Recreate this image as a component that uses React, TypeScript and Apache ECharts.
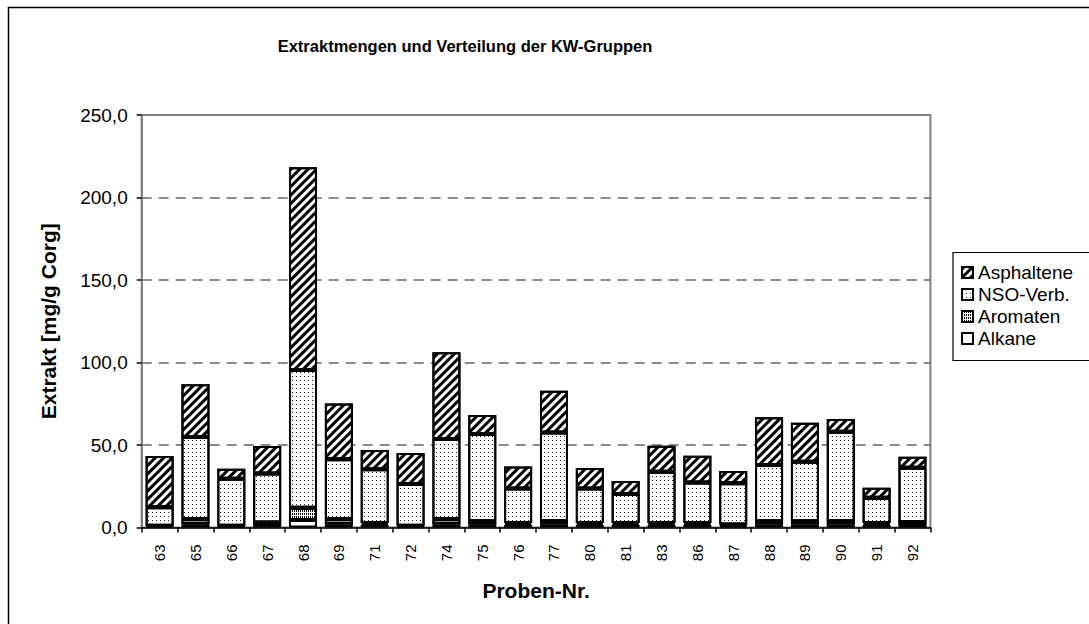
import React, { useEffect, useRef } from 'react';
import * as echarts from 'echarts';

const categories = ['63', '65', '66', '67', '68', '69', '71', '72', '74', '75', '76', '77', '80', '81', '83', '86', '87', '88', '89', '90', '91', '92'];
const alkane = [0.5, 2.0, 0.5, 1.5, 4.5, 2.0, 1.5, 0.5, 2.0, 1.8, 1.5, 1.8, 1.5, 1.5, 1.5, 1.5, 1.0, 2.0, 2.0, 2.0, 1.5, 1.5];
const aromaten = [0.5, 3.0, 0.5, 1.5, 7.5, 3.0, 1.2, 0.5, 3.0, 2.0, 1.2, 2.2, 1.2, 1.2, 1.2, 1.2, 0.8, 1.8, 1.8, 1.8, 1.2, 1.8];
const nsoVerb = [11.2, 49.8, 28.6, 29.8, 83.5, 36.3, 32.6, 25.4, 48.7, 52.8, 21.0, 53.6, 21.0, 17.6, 31.1, 24.5, 25.0, 34.1, 36.1, 54.3, 15.4, 32.9];
const asphaltene = [31.2, 32.0, 6.0, 16.6, 122.8, 33.9, 11.7, 18.8, 52.5, 11.6, 13.2, 25.3, 12.4, 7.9, 15.8, 16.3, 7.4, 28.9, 23.6, 7.7, 6.0, 6.7];
const seriesNames = ['Alkane', 'Aromaten', 'NSO-Verb.', 'Asphaltene'];
const legendOrder = ['Asphaltene', 'NSO-Verb.', 'Aromaten', 'Alkane'];
const yMin = 0;
const yMax = 250;
const yStep = 50;

const FONT = 'Liberation Sans, Arial, sans-serif';

export default function App() {
  const ref = useRef<HTMLDivElement>(null);
  useEffect(() => {
    if (!ref.current) return;
    const chart = echarts.init(ref.current, null, { renderer: 'svg' });
    const barBase = {
      type: 'bar',
      stack: 'total',
      barWidth: 28,
    };
    const decals: any = {
      Alkane: undefined,
      Aromaten: { symbol: 'rect', symbolSize: 1, color: '#000', dashArrayX: [1, 1], dashArrayY: [2, 1], rotation: 0 },
      'NSO-Verb.': { symbol: 'rect', symbolSize: 1, color: '#222', dashArrayX: [1, 3], dashArrayY: [1, 3], rotation: 0 },
      Asphaltene: { symbol: 'rect', symbolSize: 1, color: '#000', dashArrayX: [1, 0], dashArrayY: [2.5, 2.5], rotation: -Math.PI / 4 },
    };
    const dataMap: any = {
      Alkane: alkane,
      Aromaten: aromaten,
      'NSO-Verb.': nsoVerb,
      Asphaltene: asphaltene,
    };
    chart.setOption({
      animation: false,
      backgroundColor: '#fff',
      textStyle: { fontFamily: FONT },
      grid: {
        left: 141.7,
        right: 1089 - 930.4,
        top: 115,
        bottom: 624 - 527.5,
        show: true,
        borderColor: '#808080',
        borderWidth: 2,
        backgroundColor: 'transparent',
      },
      legend: {
        orient: 'vertical',
        left: 961,
        top: 263,
        itemWidth: 11,
        itemHeight: 11,
        itemGap: 3,
        padding: 0,
        icon: 'rect',
        data: legendOrder,
        textStyle: { fontSize: 19, fontFamily: FONT, color: '#000' },
      },
      xAxis: {
        type: 'category',
        data: categories,
        name: 'Proben-Nr.',
        nameLocation: 'middle',
        nameGap: 52,
        nameTextStyle: { fontSize: 21, fontWeight: 'bold', color: '#000', fontFamily: FONT },
        axisLine: { lineStyle: { color: '#000', width: 1.5 } },
        axisTick: { show: true, length: 5, lineStyle: { color: '#000', width: 1.5 } },
        axisLabel: { rotate: 90, fontSize: 15, color: '#000', margin: 17, fontFamily: FONT },
      },
      yAxis: {
        type: 'value',
        min: yMin,
        max: yMax,
        interval: yStep,
        name: 'Extrakt [mg/g Corg]',
        nameLocation: 'middle',
        nameGap: 83,
        nameTextStyle: { fontSize: 21, fontWeight: 'bold', color: '#000', fontFamily: FONT },
        axisLine: { show: true, lineStyle: { color: '#808080', width: 2 } },
        axisTick: { show: true, length: 5, lineStyle: { color: '#000', width: 1.5 } },
        axisLabel: {
          fontSize: 19,
          color: '#000',
          margin: 14,
          fontFamily: FONT,
          formatter: (v: number) => v.toFixed(1).replace('.', ','),
        },
        splitLine: {
          show: true,
          showMinLine: false,
          showMaxLine: false,
          lineStyle: { color: '#666', type: [10, 7], width: 1.5 },
        },
      },
      graphic: [
        {
          type: 'rect',
          shape: { x: 8.5, y: 7.5, width: 1200, height: 700 },
          style: { fill: 'none', stroke: '#000', lineWidth: 1.5 },
          silent: true,
          z: -1,
        },
        {
          type: 'rect',
          shape: { x: 953, y: 252.5, width: 200, height: 108 },
          style: { fill: 'none', stroke: '#000', lineWidth: 1.2 },
          silent: true,
        },
        {
          type: 'text',
          x: 465,
          y: 46,
          style: {
            text: 'Extraktmengen und Verteilung der KW-Gruppen',
            textAlign: 'center',
            textVerticalAlign: 'middle',
            font: `bold 16.5px ${FONT}`,
            fill: '#000',
          },
        },
      ],
      series: seriesNames.map((name) => ({
        ...barBase,
        name,
        data: dataMap[name],
        itemStyle: {
          color: '#fff',
          borderColor: '#000',
          borderWidth: 2,
          decal: decals[name],
        },
      })),
    });
    return () => chart.dispose();
  }, []);
  return <div ref={ref} style={{ position: 'absolute', left: 0, top: 0, width: 1089, height: 624 }} />;
}
